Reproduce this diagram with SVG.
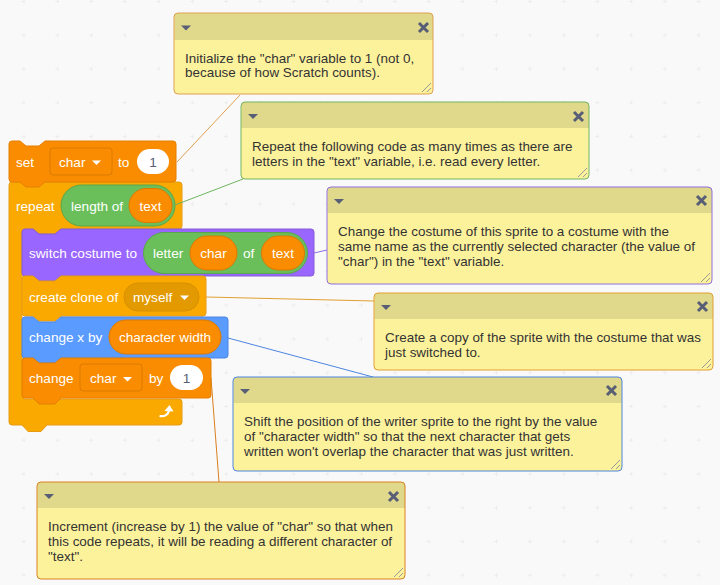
<svg xmlns="http://www.w3.org/2000/svg" width="720" height="585" viewBox="0 0 720 585">
<defs>
<pattern id="grid" width="33.75" height="33.75" patternUnits="userSpaceOnUse" x="19.5" y="30.75">
<path d="M2 4.500H6M4.500 2.500V6.500" stroke="#ececec" stroke-width="1" fill="none"/>
</pattern>
</defs>
<style>
text{font-family:"Liberation Sans",Arial,sans-serif}
.b{font-size:13.6px;fill:#fff}
.n{font-size:13.6px;fill:#575e75}
.c{font-size:13.45px;fill:#333}
.head{fill:#e0d88b}
.body{fill:#fdf29c}
.ln{fill:none;stroke-width:1}
.x{stroke:#575e75;stroke-width:3;fill:none}
.tri{fill:#575e75}
.grip{stroke:#999;fill:none}
.org{fill:#f98c00;stroke:#dc7a00}
.grn{fill:#6abf5b;stroke:#5aa64d}
</style>
<rect width="720" height="585" fill="#f9f9f9"/>
<rect width="720" height="585" fill="url(#grid)"/>
<g id="block-repeat">
<path d="M12 182H179a3 3 0 0 1 3 3V226a3 3 0 0 1-3 3H61l-6 5H39l-6-5H25a3 3 0 0 0-3 3V396a3 3 0 0 0 3 3H179a3 3 0 0 1 3 3V422a3 3 0 0 1-3 3H47l-6 6.500H28l-6-6.500H12a3 3 0 0 1-3-3V185a3 3 0 0 1 3-3Z" fill="#f9a900" stroke="#e69c17"/>
<text class="b" x="16" y="211">repeat</text>
<path d="M159.500 416C165 417 169 414 169 409.500" fill="none" stroke="#fff" stroke-width="2.200"/>
<path d="M164.500 411L169.500 405L173.500 411.500Z" fill="#fff"/>
</g>
<g id="block-set">
<path d="M12 141H20l6 5H39l6-5H173a3 3 0 0 1 3 3V179a3 3 0 0 1-3 3H45l-6 5H26l-6-5H12a3 3 0 0 1-3-3V144a3 3 0 0 1 3-3Z" fill="#f98c00" stroke="#e67e00"/>
<text class="b" x="16" y="167">set</text>
<rect x="50" y="148" width="62" height="27" rx="3" class="org"/>
<text class="b" x="59" y="167">char</text>
<path d="M92 160.500H101L96.500 165Z" fill="#fff"/>
<text class="b" x="118" y="167">to</text>
<rect x="137" y="149" width="32" height="25" rx="12.500" fill="#fff"/>
<text class="n" x="153" y="167" text-anchor="middle">1</text>
</g>
<g id="reporter-length">
<rect x="61" y="185" width="114" height="41" rx="20.500" class="grn"/>
<text class="b" x="71" y="211">length of</text>
<rect x="129" y="188.500" width="43" height="34" rx="17" class="org"/>
<text class="b" x="150.500" y="211" text-anchor="middle">text</text>
</g>
<g id="block-switch">
<path d="M25 229H33l6 5H55l6-5H311a3 3 0 0 1 3 3V273a3 3 0 0 1-3 3H61l-6 5H39l-6-5H25a3 3 0 0 1-3-3V232a3 3 0 0 1 3-3Z" fill="#9966ff" stroke="#855cd6"/>
<text class="b" x="29" y="258">switch costume to</text>
<rect x="143.500" y="232.500" width="164" height="41" rx="20.500" class="grn"/>
<text class="b" x="153" y="258">letter</text>
<rect x="190" y="236" width="47" height="34" rx="17" class="org"/>
<text class="b" x="213.500" y="258" text-anchor="middle">char</text>
<text class="b" x="243" y="258">of</text>
<rect x="261.500" y="236" width="43" height="34" rx="17" class="org"/>
<text class="b" x="283" y="258" text-anchor="middle">text</text>
</g>
<g id="block-clone">
<path d="M25 276H33l6 5H55l6-5H203a3 3 0 0 1 3 3V313a3 3 0 0 1-3 3H61l-6 5H39l-6-5H25a3 3 0 0 1-3-3V279a3 3 0 0 1 3-3Z" fill="#f9a900" stroke="#e69c17"/>
<text class="b" x="29" y="302">create clone of</text>
<rect x="124" y="283" width="75" height="28" rx="14" fill="#e29a00" stroke="#d98f00"/>
<text class="b" x="133" y="302">myself</text>
<path d="M180 295.500H189L184.500 300Z" fill="#fff"/>
</g>
<g id="block-changex">
<path d="M25 317H33l6 5H55l6-5H225a3 3 0 0 1 3 3V355a3 3 0 0 1-3 3H61l-6 5H39l-6-5H25a3 3 0 0 1-3-3V320a3 3 0 0 1 3-3Z" fill="#5a9bff" stroke="#4c86e0"/>
<text class="b" x="29" y="342">change x by</text>
<rect x="109" y="320" width="112" height="34" rx="17" class="org"/>
<text class="b" x="165" y="342" text-anchor="middle">character width</text>
</g>
<g id="block-changechar">
<path d="M25 358H33l6 5H55l6-5H208a3 3 0 0 1 3 3V395a3 3 0 0 1-3 3H61l-6 6H39l-6-6H25a3 3 0 0 1-3-3V361a3 3 0 0 1 3-3Z" fill="#f98c00" stroke="#e67e00"/>
<text class="b" x="29" y="383">change</text>
<rect x="80" y="364" width="62" height="27" rx="3" class="org"/>
<text class="b" x="90" y="383">char</text>
<path d="M123 377H132L127.500 381.500Z" fill="#fff"/>
<text class="b" x="149" y="383">by</text>
<rect x="170" y="365" width="33" height="25" rx="12.500" fill="#fff"/>
<text class="n" x="186.500" y="383" text-anchor="middle">1</text>
</g>
<g id="connectors">
<line class="ln" x1="177" y1="162" x2="240" y2="95" stroke="#e0a050"/>
<line class="ln" x1="175" y1="205" x2="243" y2="179" stroke="#6fb55f"/>
<line class="ln" x1="314" y1="253" x2="327" y2="250" stroke="#8f6ee0"/>
<line class="ln" x1="206" y1="297" x2="374" y2="301" stroke="#e0a030"/>
<line class="ln" x1="228" y1="338" x2="373" y2="377" stroke="#4c86e0"/>
<line class="ln" x1="211" y1="378" x2="219" y2="482" stroke="#d98020"/>
</g>
<g id="note1">
<rect x="174" y="13" width="259" height="81" rx="4" class="body"/>
<path d="M174.500 40V17a4 4 0 0 1 4-4H429a4 4 0 0 1 4 4V40Z" class="head"/>
<rect x="174" y="13" width="259" height="81" rx="4" fill="none" stroke="#e0a050"/>
<path d="M181 25.500H191L186 30.500Z" class="tri"/>
<path d="M419 23L428 32M428 23L419 32" class="x"/>
<path d="M422 92L431 83M427 92L431 88" class="grip"/>
<text class="c" x="185" y="63">Initialize the "char" variable to 1 (not 0,</text>
<text class="c" x="185" y="77">because of how Scratch counts).</text>
</g>
<g id="note2">
<rect x="241" y="102" width="348" height="77" rx="4" class="body"/>
<path d="M241.500 128V106a4 4 0 0 1 4-4H585a4 4 0 0 1 4 4V128Z" class="head"/>
<rect x="241" y="102" width="348" height="77" rx="4" fill="none" stroke="#6fb55f"/>
<path d="M248 114H258L253 119Z" class="tri"/>
<path d="M574 112L583 121M583 112L574 121" class="x"/>
<path d="M578 177L587 168M583 177L587 173" class="grip"/>
<text class="c" x="252" y="151">Repeat the following code as many times as there are</text>
<text class="c" x="252" y="166">letters in the "text" variable, i.e. read every letter.</text>
</g>
<g id="note3">
<rect x="327" y="187" width="385" height="97" rx="4" class="body"/>
<path d="M327.500 213V191a4 4 0 0 1 4-4H708a4 4 0 0 1 4 4V213Z" class="head"/>
<rect x="327" y="187" width="385" height="97" rx="4" fill="none" stroke="#8f6ee0"/>
<path d="M334 199H344L339 204Z" class="tri"/>
<path d="M697 196L706 205M706 196L697 205" class="x"/>
<path d="M701 282L710 273M706 282L710 278" class="grip"/>
<text class="c" x="338" y="236">Change the costume of this sprite to a costume with the</text>
<text class="c" x="338" y="251">same name as the currently selected character (the value of</text>
<text class="c" x="338" y="266">"char") in the "text" variable.</text>
</g>
<g id="note4">
<rect x="374" y="293" width="339" height="77" rx="4" class="body"/>
<path d="M374.500 319V297a4 4 0 0 1 4-4H709a4 4 0 0 1 4 4V319Z" class="head"/>
<rect x="374" y="293" width="339" height="77" rx="4" fill="none" stroke="#e0a030"/>
<path d="M381 305H391L386 310Z" class="tri"/>
<path d="M698 302L707 311M707 302L698 311" class="x"/>
<path d="M702 368L711 359M707 368L711 364" class="grip"/>
<text class="c" x="385" y="342">Create a copy of the sprite with the costume that was</text>
<text class="c" x="385" y="357">just switched to.</text>
</g>
<g id="note5">
<rect x="233" y="377" width="389" height="94" rx="4" class="body"/>
<path d="M233.500 403V381a4 4 0 0 1 4-4H618a4 4 0 0 1 4 4V403Z" class="head"/>
<rect x="233" y="377" width="389" height="94" rx="4" fill="none" stroke="#4c86e0"/>
<path d="M240 389H250L245 394Z" class="tri"/>
<path d="M607 386L616 395M616 386L607 395" class="x"/>
<path d="M611 469L620 460M616 469L620 465" class="grip"/>
<text class="c" x="244" y="426">Shift the position of the writer sprite to the right by the value</text>
<text class="c" x="244" y="441">of "character width" so that the next character that gets</text>
<text class="c" x="244" y="456">written won't overlap the character that was just written.</text>
</g>
<g id="note6">
<rect x="37" y="482" width="368" height="97" rx="4" class="body"/>
<path d="M37.500 508V486a4 4 0 0 1 4-4H401a4 4 0 0 1 4 4V508Z" class="head"/>
<rect x="37" y="482" width="368" height="97" rx="4" fill="none" stroke="#d98020"/>
<path d="M44 494H54L49 499Z" class="tri"/>
<path d="M389 492L398 501M398 492L389 501" class="x"/>
<path d="M394 577L403 568M399 577L403 573" class="grip"/>
<text class="c" x="48" y="531">Increment (increase by 1) the value of "char" so that when</text>
<text class="c" x="48" y="546">this code repeats, it will be reading a different character of</text>
<text class="c" x="48" y="561">"text".</text>
</g>
</svg>
